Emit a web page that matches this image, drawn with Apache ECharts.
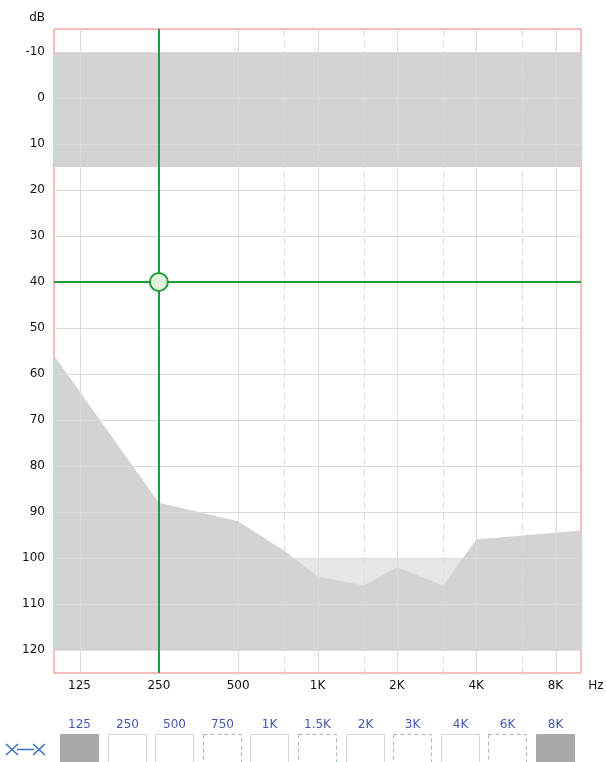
<!DOCTYPE html>
<html>
<head>
<meta charset="utf-8">
<script src="https://cdn.jsdelivr.net/npm/echarts@6/dist/echarts.min.js"></script>
<style>
  html, body { margin: 0; padding: 0; background: #fff; }
  #main { width: 606px; height: 762px; }
</style>
</head>
<body>
<div id="main"></div>
<script>
// axis ranges
var freqRange = [100, 10000];
var dbRange = [-15, 125];
var dbTicks = [-10, 0, 10, 20, 30, 40, 50, 60, 70, 80, 90, 100, 110, 120];
var octaveFreqs = [125, 250, 500, 1000, 2000, 4000, 8000];
var halfFreqs = [750, 1500, 3000, 6000];

// shaded regions
var normalBandDb = [-10, 15];
var loudBandDb = [100, 120];
var loudBandFreqs = [125, 8000];
var limitFreqs = [100, 250, 500, 750, 1000, 1500, 2000, 3000, 4000, 10000];
var limitDb = [56, 88, 92, 98.5, 104, 106, 102, 106, 96, 94];
var limitFloorDb = 120;

// cursor
var cursorPoint = [250, 40];

// frequency buttons
var boxFreqs = [125, 250, 500, 750, 1000, 1500, 2000, 3000, 4000, 6000, 8000];
var maskedFreqs = [125, 8000];

var lg = Math.log2;
function fmtFreq(f) { return f >= 1000 ? (f / 1000) + 'K' : String(f); }

var font = '"DejaVu Sans", Verdana, sans-serif';
var green = '#1e9e34';
var textColor = '#111';

var chart = echarts.init(document.getElementById('main'));

function gridLineData() {
  return dbTicks.map(function (v) {
    return { yAxis: v, lineStyle: { type: 'solid' } };
  }).concat(octaveFreqs.map(function (f) {
    return { xAxis: lg(f), lineStyle: { type: 'solid' } };
  })).concat(halfFreqs.map(function (f) {
    return { xAxis: lg(f), lineStyle: { type: [7, 4] } };
  }));
}

var graphics = [];
var boxX0 = 60, boxPitch = 47.6, boxW = 38, boxTop = 734, boxH = 34;
boxFreqs.forEach(function (f, i) {
  var x = Math.round(boxX0 + i * boxPitch) + 0.5;
  var masked = maskedFreqs.indexOf(f) >= 0;
  var half = halfFreqs.indexOf(f) >= 0;
  graphics.push({
    type: 'rect',
    shape: { x: x, y: boxTop + 0.5, width: boxW, height: boxH },
    style: {
      fill: masked ? '#a9a9a9' : '#ffffff',
      stroke: masked ? '#a9a9a9' : (half ? '#9bb7da' : '#d4d4d4'),
      lineWidth: 1,
      lineDash: half ? [4, 3] : null
    }
  });
  graphics.push({
    type: 'text',
    x: x + boxW / 2,
    y: 725,
    style: {
      text: fmtFreq(f),
      fill: '#4656b4',
      fontSize: 12,
      fontFamily: font,
      align: 'center',
      verticalAlign: 'middle'
    }
  });
});
// x—x legend icon
var iconColor = '#3b6fc4';
[12, 39].forEach(function (cx) {
  graphics.push({ type: 'line', shape: { x1: cx - 6, y1: 744, x2: cx + 6, y2: 755 }, style: { stroke: iconColor, lineWidth: 1.5 } });
  graphics.push({ type: 'line', shape: { x1: cx - 6, y1: 755, x2: cx + 6, y2: 744 }, style: { stroke: iconColor, lineWidth: 1.5 } });
});
graphics.push({ type: 'line', shape: { x1: 17, y1: 749.5, x2: 34, y2: 749.5 }, style: { stroke: iconColor, lineWidth: 1.5 } });
// unit label at the right end of the frequency axis
graphics.push({
  type: 'text', x: 596, y: 686,
  style: { text: 'Hz', fill: textColor, fontSize: 12, fontFamily: font, align: 'center', verticalAlign: 'middle' }
});

chart.setOption({
  animation: false,
  grid: {
    left: 54, top: 29, right: 25, bottom: 89,
    show: true,
    borderColor: '#ef7b7b',
    borderWidth: 1,
    backgroundColor: '#fff'
  },
  xAxis: {
    type: 'value',
    min: lg(freqRange[0]),
    max: lg(freqRange[1]),
    axisLine: { show: false },
    axisTick: { show: false },
    splitLine: { show: false },
    axisLabel: {
      customValues: octaveFreqs.map(lg),
      formatter: function (v) { return fmtFreq(Math.round(Math.pow(2, v))); },
      color: textColor,
      fontSize: 12,
      fontFamily: font,
      margin: 7
    }
  },
  yAxis: {
    type: 'value',
    inverse: true,
    min: dbRange[0],
    max: dbRange[1],
    name: 'dB',
    nameLocation: 'start',
    nameGap: 5,
    nameTextStyle: { color: textColor, fontSize: 12, fontFamily: font, align: 'right', padding: [0, 9, 0, 0] },
    axisLine: { show: false },
    axisTick: { show: false },
    splitLine: { show: false },
    axisLabel: {
      customValues: dbTicks,
      color: textColor,
      fontSize: 12,
      fontFamily: font,
      margin: 9
    }
  },
  graphic: graphics,
  series: [
    {
      // grid lines under the shading
      type: 'line',
      data: [],
      z: 1,
      silent: true,
      markLine: {
        silent: true,
        symbol: 'none',
        label: { show: false },
        lineStyle: { color: '#e3e3e3', width: 1 },
        data: gridLineData()
      }
    },
    {
      // shaded bands
      type: 'line',
      data: [],
      z: 2,
      silent: true,
      markArea: {
        silent: true,
        data: [
          [{ xAxis: lg(freqRange[0]), yAxis: normalBandDb[0], itemStyle: { color: '#d3d3d3' } },
           { xAxis: lg(freqRange[1]), yAxis: normalBandDb[1] }],
          [{ xAxis: lg(loudBandFreqs[0]), yAxis: loudBandDb[0], itemStyle: { color: '#e6e6e6' } },
           { xAxis: lg(loudBandFreqs[1]), yAxis: loudBandDb[1] }]
        ]
      }
    },
    {
      // limit polygon down to the floor
      type: 'custom',
      z: 3,
      silent: true,
      data: limitFreqs.map(function (f, i) { return [lg(f), limitDb[i]]; }),
      renderItem: function (params, api) {
        if (params.dataIndex !== 0) return;
        var pts = limitFreqs.map(function (f, i) { return api.coord([lg(f), limitDb[i]]); });
        pts.push(api.coord([lg(limitFreqs[limitFreqs.length - 1]), limitFloorDb]));
        pts.push(api.coord([lg(limitFreqs[0]), limitFloorDb]));
        return { type: 'polygon', shape: { points: pts }, style: { fill: '#d3d3d3' } };
      }
    },
    {
      // faint grid lines showing through the shading
      type: 'line',
      data: [],
      z: 4,
      silent: true,
      markLine: {
        silent: true,
        symbol: 'none',
        label: { show: false },
        lineStyle: { color: 'rgba(0,0,0,0.035)', width: 1 },
        data: gridLineData()
      }
    },
    {
      // cursor lines
      type: 'line',
      data: [],
      z: 5,
      silent: true,
      markLine: {
        silent: true,
        symbol: 'none',
        label: { show: false },
        lineStyle: { color: green, width: 2, type: 'solid' },
        data: [{ xAxis: lg(cursorPoint[0]) }, { yAxis: cursorPoint[1] }]
      }
    },
    {
      type: 'scatter',
      z: 6,
      silent: true,
      symbolSize: 18,
      itemStyle: { color: '#e4f3df', borderColor: green, borderWidth: 2, opacity: 1 },
      data: [[lg(cursorPoint[0]), cursorPoint[1]]]
    }
  ]
});
</script>
</body>
</html>
